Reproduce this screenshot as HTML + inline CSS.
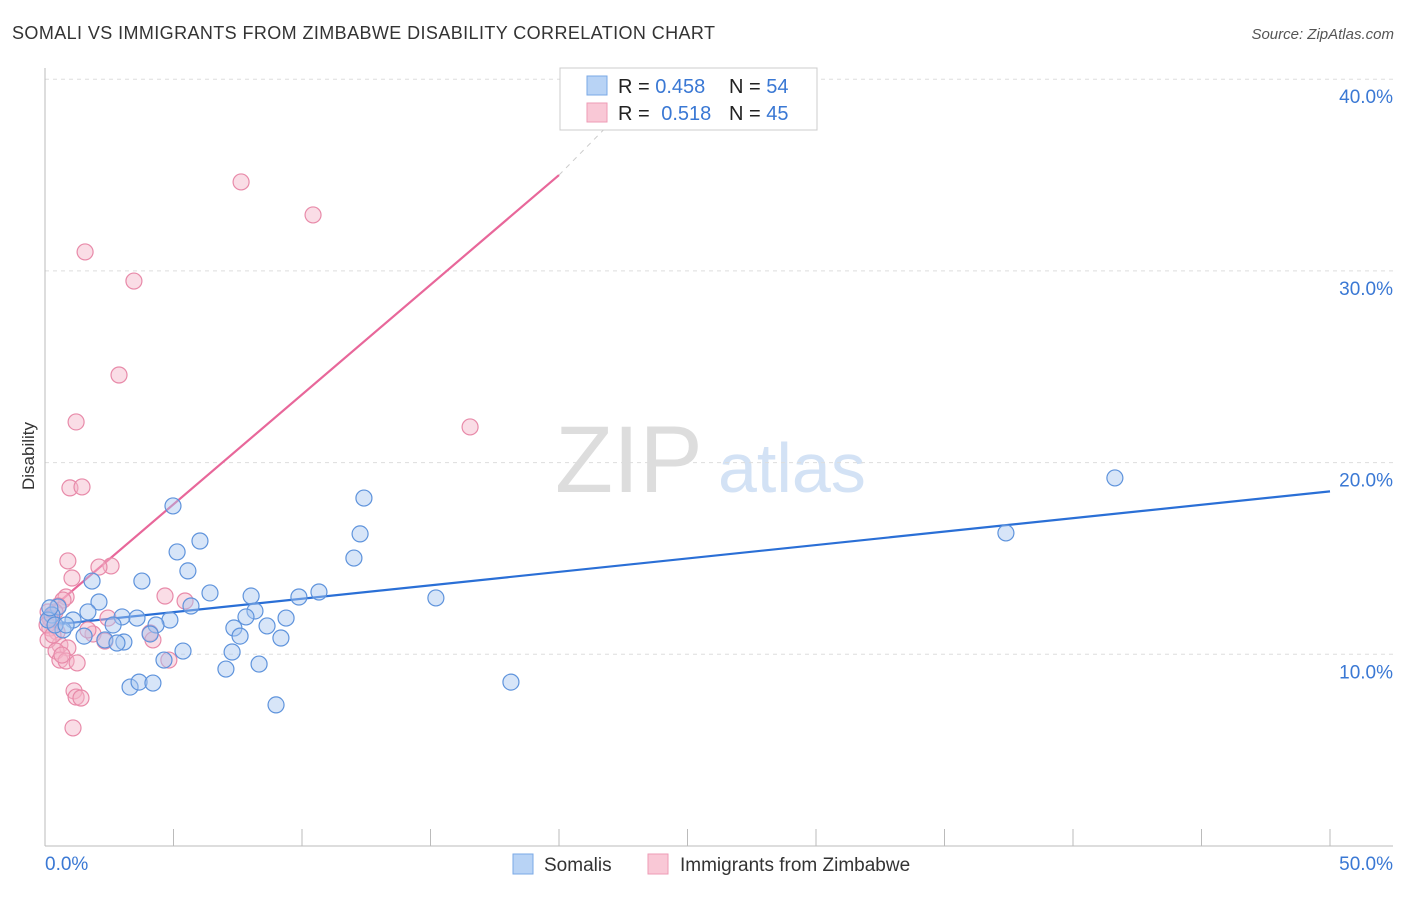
<!DOCTYPE html>
<html><head><meta charset="utf-8"><style>
body{margin:0;background:#fff;font-family:"Liberation Sans",sans-serif;}
svg text{font-family:"Liberation Sans",sans-serif;}
</style></head><body>
<svg id="chart" width="1406" height="892">
<text x="12" y="39" font-size="18" fill="#333" textLength="703">SOMALI VS IMMIGRANTS FROM ZIMBABWE DISABILITY CORRELATION CHART</text>
<text x="1394" y="39" font-size="15" fill="#555" font-style="italic" text-anchor="end">Source: ZipAtlas.com</text>
<text transform="translate(34,456) rotate(-90)" font-size="17" fill="#333" text-anchor="middle">Disability</text>
<text x="555" y="492" font-size="95" fill="#ddd" font-family="Liberation Serif">ZIP</text>
<text x="718" y="492" font-size="70" fill="#d3e2f5">atlas</text>
<g id="grid"></g><g id="axes"></g><g id="lines"></g><g id="pts"></g>
<g>
<rect x="560" y="68" width="257" height="62" fill="#fff" stroke="#ccc"/>
<rect x="587" y="76" width="20" height="19" fill="#b8d3f5" stroke="#7aa8e6"/>
<rect x="587" y="103" width="20" height="19" fill="#f9c8d6" stroke="#ee9bb6"/>
<text x="618" y="93" font-size="20" fill="#222">R = <tspan fill="#3a78d4">0.458</tspan></text>
<text x="729" y="93" font-size="20" fill="#222">N = <tspan fill="#3a78d4">54</tspan></text>
<text x="618" y="120" font-size="20" fill="#222">R = <tspan fill="#3a78d4" dx="6">0.518</tspan></text>
<text x="729" y="120" font-size="20" fill="#222">N = <tspan fill="#3a78d4">45</tspan></text>
</g>
<g>
<rect x="513" y="854" width="20" height="20" fill="#b8d3f5" stroke="#7aa8e6"/>
<text x="544" y="871" font-size="19" fill="#333">Somalis</text>
<rect x="648" y="854" width="20" height="20" fill="#f9c8d6" stroke="#ee9bb6"/>
<text x="680" y="871" font-size="19" fill="#333">Immigrants from Zimbabwe</text>
</g>
</svg>
<script>
const yTicks=[10,20,30,40];
const blueX=[4.98,12.41,41.63,12.26,37.39,6.03,5.14,12.02,5.56,1.83,3.77,6.42,8.02,10.66,9.88,15.21,2.10,0.51,5.68,8.17,1.67,3.00,3.58,4.86,4.32,2.65,1.09,0.70,9.38,7.82,8.64,7.35,7.59,9.18,1.52,2.33,3.07,2.80,4.09,7.28,5.37,4.63,8.33,7.04,3.31,3.66,4.20,18.13,8.99,0.27,0.12,0.39,0.19,0.82];
const blueY=[17.74,18.15,19.20,16.28,16.33,15.91,15.34,15.02,14.35,13.82,13.82,13.20,13.04,13.25,12.99,12.94,12.73,12.47,12.52,12.26,12.21,11.95,11.89,11.79,11.53,11.53,11.79,11.27,11.89,11.95,11.48,11.37,10.95,10.85,10.95,10.75,10.64,10.59,11.06,10.12,10.17,9.70,9.49,9.23,8.29,8.55,8.50,8.55,7.36,12.05,11.79,11.53,12.42,11.53];
const pinkX=[7.63,10.43,1.56,3.46,2.88,1.21,16.54,0.97,1.44,0.89,2.57,2.10,1.05,0.82,0.70,4.67,5.45,0.51,0.39,0.12,0.27,0.19,0.47,1.87,4.09,4.20,2.33,0.58,0.89,0.12,0.43,0.58,0.82,1.25,4.82,0.66,1.13,1.21,1.40,1.09,2.45,0.19,0.08,0.31,1.67];
const pinkY=[34.64,32.92,30.99,29.47,24.57,22.12,21.86,18.68,18.73,14.87,14.61,14.55,13.98,12.99,12.83,13.04,12.78,12.52,12.21,12.21,11.79,11.37,11.16,11.06,11.11,10.75,10.69,10.49,10.33,10.75,10.17,9.70,9.65,9.55,9.70,9.96,8.09,7.77,7.72,6.16,11.89,11.89,11.53,11.01,11.27];
const blueLine=[[0,11.5],[50,18.5]];
const pinkLine=[[0,12.1],[20,35.0]];
const pinkDash=[[20,35.0],[22.5,38.4]];
const sx=v=>45+v*25.7, sy=v=>846-v*19.17;
const NS='http://www.w3.org/2000/svg';
function mk(t,a,p){const e=document.createElementNS(NS,t);for(const k in a)e.setAttribute(k,a[k]);document.getElementById(p).appendChild(e);return e;}
yTicks.forEach(t=>{
 const l=mk('line',{x1:45,x2:1393,y1:sy(t),y2:sy(t),stroke:'#ddd','stroke-dasharray':'4,4'},'grid');
 
 
 const tx=mk('text',{x:1393,y:sy(t)+24,'font-size':19,fill:'#3a78d4','text-anchor':'end'},'grid');
 tx.textContent=t.toFixed(1)+'%';
 
 
});
mk('line',{x1:45,x2:45,y1:68,y2:846,stroke:'#bbb'},'axes');
mk('line',{x1:45,x2:1393,y1:846,y2:846,stroke:'#bbb'},'axes');
for(let i=0;i<=10;i++){const t=mk('line',{x1:sx(i*5),x2:sx(i*5),y1:829,y2:846,stroke:'#bbb'},'axes');
 
 }
const x0=mk('text',{x:45,y:870,'font-size':19,fill:'#3a78d4'},'axes');x0.textContent='0.0%';


const x1=mk('text',{x:1393,y:870,'font-size':19,fill:'#3a78d4','text-anchor':'end'},'axes');x1.textContent='50.0%';


function pts(xs,ys,fill,stroke,name){xs.forEach((x,i)=>{const c=mk('circle',{cx:sx(x),cy:sy(ys[i]),r:8,fill:fill,'fill-opacity':0.45,stroke:stroke,'stroke-width':1.2},'pts');
 
 });}
pts(pinkX,pinkY,'#f4b3c8','#e88aa9','zimbabwe-point');
pts(blueX,blueY,'#a6c6f0','#5e93dc','somali-point');
const bl=mk('line',{x1:sx(blueLine[0][0]),y1:sy(blueLine[0][1]),x2:sx(blueLine[1][0]),y2:sy(blueLine[1][1]),stroke:'#2a6fd6','stroke-width':2.2},'lines');


const pl=mk('line',{x1:sx(pinkLine[0][0]),y1:sy(pinkLine[0][1]),x2:sx(pinkLine[1][0]),y2:sy(pinkLine[1][1]),stroke:'#e8679a','stroke-width':2.2},'lines');


const pd=mk('line',{x1:sx(pinkDash[0][0]),y1:sy(pinkDash[0][1]),x2:sx(pinkDash[1][0]),y2:sy(pinkDash[1][1]),stroke:'#ccc','stroke-width':1,'stroke-dasharray':'5,5'},'lines');


</script>
</body></html>
